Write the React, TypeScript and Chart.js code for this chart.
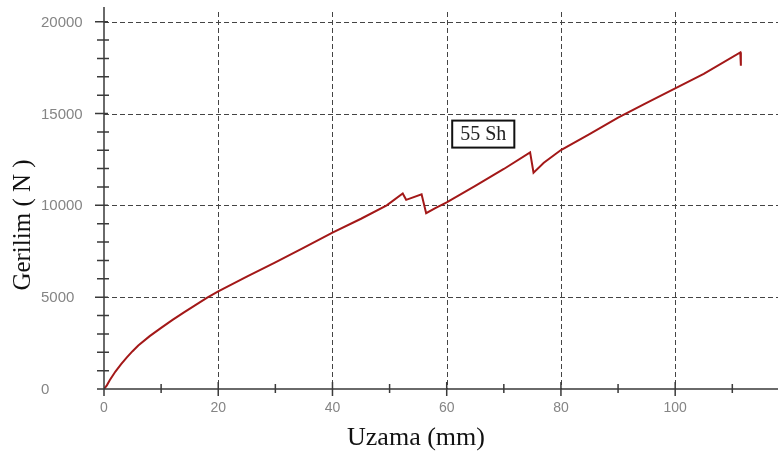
import { useEffect, useRef } from 'react';
import { Chart, registerables } from 'chart.js';
Chart.register(...registerables);

// Uzama (mm)
const uzama = [0, 0.5, 1, 2, 3, 4, 5, 6, 8, 10, 12, 14, 16, 18, 20, 25, 30, 35, 40, 45, 49.5, 52.3, 52.9, 55.6, 56.4, 58, 60, 65, 70, 74.6, 75.2, 77, 80, 85, 90, 95, 100, 105, 111.4, 111.5];
// Gerilim (N)
const gerilim = [0, 200, 480, 950, 1350, 1720, 2060, 2370, 2880, 3330, 3760, 4170, 4570, 4960, 5310, 6120, 6900, 7700, 8520, 9270, 10000, 10650, 10300, 10600, 9570, 9850, 10160, 11060, 11980, 12880, 11780, 12320, 13010, 13880, 14780, 15580, 16370, 17160, 18330, 17600];

const xMajorTicks = [0, 20, 40, 60, 80, 100];
const xMinorTicks = [10, 30, 50, 70, 90, 110];
const yMajorTicks = [0, 5000, 10000, 15000, 20000];
const yMinorTicks = [1000, 2000, 3000, 4000, 6000, 7000, 8000, 9000, 11000, 12000, 13000, 14000, 16000, 17000, 18000, 19000];

const annotationText = '55 Sh';
const annotationAt = { x: 66.4, y: 13880 };

const xTitle = 'Uzama (mm)';
const yTitle = 'Gerilim ( N )';

export default function App() {
  const ref = useRef<HTMLCanvasElement | null>(null);

  useEffect(() => {
    if (!ref.current) return;
    const points = uzama.map((x, i) => ({ x, y: gerilim[i] }));

    const decor = {
      id: 'decor',
      beforeDatasetsDraw(chart: any) {
        const { ctx, chartArea } = chart;
        const xs = chart.scales.x;
        const ys = chart.scales.y;
        ctx.save();
        ctx.strokeStyle = '#444';
        ctx.lineWidth = 1;
        ctx.setLineDash([5, 3]);
        for (const v of xMajorTicks) {
          if (v === 0) continue;
          const px = Math.round(xs.getPixelForValue(v)) + 0.5;
          ctx.beginPath();
          ctx.moveTo(px, chartArea.top + 5);
          ctx.lineTo(px, chartArea.bottom);
          ctx.stroke();
        }
        for (const v of yMajorTicks) {
          if (v === 0) continue;
          const py = Math.round(ys.getPixelForValue(v)) + 0.5;
          ctx.beginPath();
          ctx.moveTo(chartArea.left, py);
          ctx.lineTo(chartArea.right, py);
          ctx.stroke();
        }
        ctx.restore();
      },
      afterDatasetsDraw(chart: any) {
        const { ctx, chartArea } = chart;
        const xs = chart.scales.x;
        const ys = chart.scales.y;
        ctx.save();
        ctx.strokeStyle = '#3a3a3a';
        ctx.lineWidth = 1.5;
        ctx.setLineDash([]);
        const ax = chartArea.left;
        const ay = chartArea.bottom;
        ctx.beginPath();
        ctx.moveTo(ax, chartArea.top);
        ctx.lineTo(ax, ay + 7);
        ctx.moveTo(ax - 7, ay);
        ctx.lineTo(chartArea.right, ay);
        ctx.stroke();
        ctx.beginPath();
        for (const v of xMajorTicks) {
          if (v === 0) continue;
          const px = xs.getPixelForValue(v);
          ctx.moveTo(px, ay - 7);
          ctx.lineTo(px, ay + 7);
        }
        for (const v of xMinorTicks) {
          const px = xs.getPixelForValue(v);
          ctx.moveTo(px, ay - 5);
          ctx.lineTo(px, ay + 4);
        }
        for (const v of yMajorTicks) {
          if (v === 0) continue;
          const py = ys.getPixelForValue(v);
          ctx.moveTo(ax - 9, py);
          ctx.lineTo(ax + 4, py);
        }
        for (const v of yMinorTicks) {
          const py = ys.getPixelForValue(v);
          ctx.moveTo(ax - 7, py);
          ctx.lineTo(ax + 5, py);
        }
        ctx.stroke();

        // tick labels
        ctx.fillStyle = '#858585';
        ctx.textBaseline = 'middle';
        ctx.font = '14px "Liberation Sans"';
        ctx.textAlign = 'center';
        for (const v of xMajorTicks) {
          ctx.fillText(String(v), xs.getPixelForValue(v), ay + 19);
        }
        ctx.font = '15px "Liberation Sans"';
        ctx.textAlign = 'left';
        for (const v of yMajorTicks) {
          ctx.fillText(String(v), 41, ys.getPixelForValue(v) + 1);
        }

        // annotation
        const cx = xs.getPixelForValue(annotationAt.x);
        const cy = ys.getPixelForValue(annotationAt.y);
        ctx.font = '20px "Liberation Serif"';
        const tw = ctx.measureText(annotationText).width;
        const bw = tw + 16;
        const bh = 27;
        ctx.fillStyle = '#fff';
        ctx.fillRect(cx - bw / 2, cy - bh / 2, bw, bh);
        ctx.strokeStyle = '#111';
        ctx.lineWidth = 2;
        ctx.strokeRect(cx - bw / 2, cy - bh / 2, bw, bh);
        ctx.fillStyle = '#222';
        ctx.textAlign = 'center';
        ctx.textBaseline = 'middle';
        ctx.fillText(annotationText, cx, cy + 1);

        // titles
        ctx.fillStyle = '#111';
        ctx.font = '26px "Liberation Serif"';
        ctx.textAlign = 'center';
        ctx.textBaseline = 'alphabetic';
        ctx.fillText(xTitle, 416, 445);
        ctx.translate(30, 225);
        ctx.rotate(-Math.PI / 2);
        ctx.font = '25px "Liberation Serif"';
        ctx.fillText(yTitle, 0, 0);
        ctx.restore();
      },
    };

    const chart = new Chart(ref.current, {
      type: 'line',
      data: {
        datasets: [
          {
            data: points,
            borderColor: '#a31818',
            borderWidth: 2,
            pointRadius: 0,
            tension: 0,
            fill: false,
          },
        ],
      },
      options: {
        animation: false,
        responsive: false,
        layout: { padding: { left: 41, top: 7, right: 0, bottom: 0 } },
        plugins: { legend: { display: false }, tooltip: { enabled: false } },
        scales: {
          x: {
            type: 'linear',
            min: 0,
            max: 118,
            grid: { display: false, drawTicks: false },
            border: { display: false },
            ticks: { display: false },
            afterFit(scale: any) {
              scale.height = 69;
            },
          },
          y: {
            type: 'linear',
            min: 0,
            max: 20800,
            grid: { display: false, drawTicks: false },
            border: { display: false },
            ticks: { display: false },
            afterFit(scale: any) {
              scale.width = 63;
            },
          },
        },
      },
      plugins: [decor],
    });
    return () => chart.destroy();
  }, []);

  return (
    <div style={{ position: 'fixed', left: 0, top: 0, width: 778, height: 458, background: '#fff' }}>
      <canvas ref={ref} width={778} height={458} />
    </div>
  );
}
